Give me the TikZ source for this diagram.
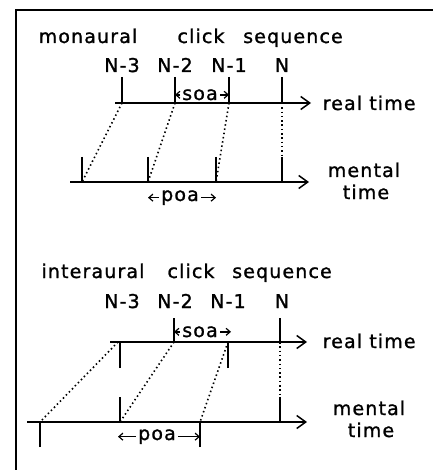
\documentclass[tikz,border=0pt]{standalone}
\usepackage{fontspec}
\setmainfont{DejaVu Sans}[LetterSpace=6,FakeBold=1.2]
\usetikzlibrary{arrows.meta}
\begin{document}
\begin{tikzpicture}[x=1pt,y=-1pt, line width=1.4pt,
 axis/.style={-{Straight Barb[length=9pt,width=13pt,line width=1.5pt]}},
 tickline/.style={line width=1.9pt},
 link/.style={dash pattern=on 1.5pt off 2.8pt, line width=1.6pt},
 txt/.style={inner sep=0pt, anchor=base, font=\fontsize{19}{21}\selectfont},
 smalltxt/.style={inner sep=1.5pt, anchor=base, font=\fontsize{19}{21}\selectfont},
 gap/.style={-{Straight Barb[length=4pt,width=7pt,line width=1.2pt]}, line width=1.4pt}
]
\useasboundingbox (0,0) rectangle (433,470);
% frame
\coordinate (fbl) at (16,470); \coordinate (ftl) at (16,10); \coordinate (ftr) at (433,10);
\draw[line width=1.6pt] (fbl) -- (ftl) -- (ftr);

% ===== monaural =====
\node[txt] (m1) at (88,43) {monaural};
\node[txt] (m2) at (201,43) {click};
\node[txt] (m3) at (293,43) {sequence};
\foreach \n/\x/\l in {a/122/N-3, b/175/N-2, c/229/N-1, d/282/N}{
  \node[txt] (ml\n) at (\x,72) {\l};
  \coordinate (mr\n) at (\x,103);
  \coordinate (mrt\n) at (\x,77);
  \draw[tickline] (mrt\n) -- (mr\n);
}
\coordinate (mra0) at (115,103); \coordinate (mra1) at (311,103);
\draw[axis] (mra0) -- (mra1);
\node[txt, anchor=base west] (mrt) at (322,110) {real time};
\node[smalltxt] (msoa) at (200,100) {soa};
\draw[gap] (msoa.west) -- (msoa.west -| mrtb);
\draw[gap] (msoa.east) -- (msoa.east -| mrtc);

\foreach \n/\x in {a/82, b/148, c/216, d/282}{
  \coordinate (mm\n) at (\x,182);
  \coordinate (mmt\n) at (\x,157);
  \draw[tickline] (mmt\n) -- (mm\n);
}
\coordinate (mma0) at (70,182); \coordinate (mma1) at (309,182);
\draw[axis] (mma0) -- (mma1);
\node[txt] (mmt1) at (364,177) {mental};
\node[txt] (mmt2) at (366,199) {time};
\node[smalltxt] (mpoa) at (180,201) {poa};
\draw[gap] (mpoa.west) -- (mpoa.west -| mmb);
\draw[gap] (mpoa.east) -- (mpoa.east -| mmc);
\foreach \n in {a,b,c,d}{ \draw[link] (mr\n) -- (mm\n); }

% ===== interaural =====
\node[txt] (i1) at (93,278) {interaural};
\node[txt] (i2) at (191,278) {click};
\node[txt] (i3) at (282,278) {sequence};
\foreach \n/\x/\l in {a/122/N-3, b/175/N-2, c/228/N-1, d/282/N}{
  \node[txt] (il\n) at (\x,308) {\l};
}
\foreach \n/\x/\y in {a/120/368, b/174/318, c/228/368, d/280/318}{
  \coordinate (ir\n) at (\x,342);
  \coordinate (irt\n) at (\x,\y);
  \draw[tickline] (irt\n) -- (ir\n);
}
\coordinate (ira0) at (110,342); \coordinate (ira1) at (307,342);
\draw[axis] (ira0) -- (ira1);
\node[txt, anchor=base west] (irt) at (322,348) {real time};
\node[smalltxt] (isoa) at (200,337) {soa};
\draw[gap] (isoa.west) -- (isoa.west -| irtb);
\draw[gap] (isoa.east) -- (isoa.east -| 231,0);

\foreach \n/\x/\y in {a/40/447, b/120/397, c/200/447, d/280/397}{
  \coordinate (im\n) at (\x,422);
  \coordinate (imt\n) at (\x,\y);
  \draw[tickline] (imt\n) -- (im\n);
}
\coordinate (ima0) at (27,422); \coordinate (ima1) at (307,422);
\draw[axis] (ima0) -- (ima1);
\node[txt] (imt1) at (369,415) {mental};
\node[txt] (imt2) at (371,437) {time};
\node[smalltxt] (ipoa) at (157,440) {poa};
\draw[gap] (ipoa.west) -- (ipoa.west -| 118,0);
\draw[gap] (ipoa.east) -- (ipoa.east -| imtc);
\coordinate (ila) at (118,342);
\draw[link] (ila) -- (ima);
\foreach \n in {b,c,d}{ \draw[link] (ir\n) -- (im\n); }
\end{tikzpicture}
\end{document}
